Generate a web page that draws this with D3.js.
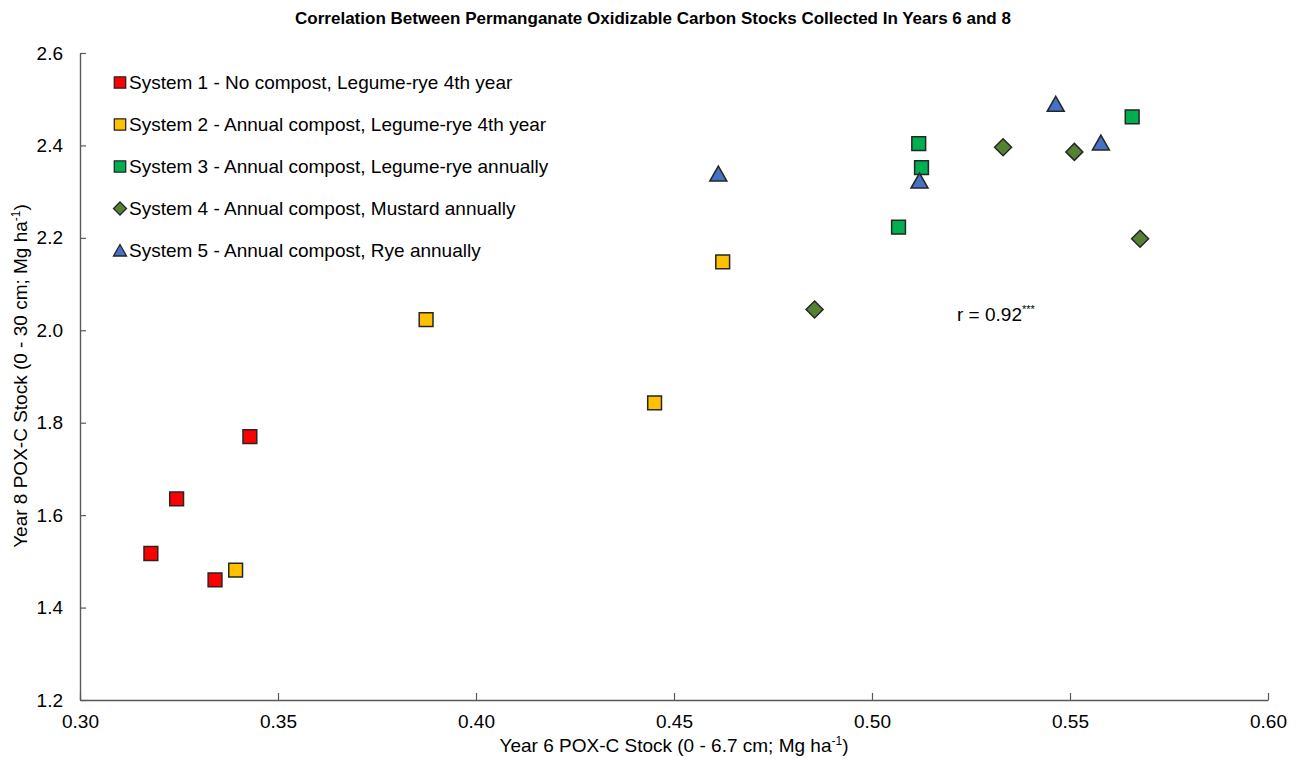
<!DOCTYPE html>
<html><head><meta charset="utf-8">
<script src="https://cdn.jsdelivr.net/npm/d3@7"></script>
<style>body{margin:0;background:#fff;}svg{display:block;font-family:"Liberation Sans",Arial,sans-serif;}</style>
</head><body><svg id="c" width="1303" height="761"></svg>
<script>
const seriesNames = [
  "System 1 - No compost, Legume-rye 4th year",
  "System 2 - Annual compost, Legume-rye 4th year",
  "System 3 - Annual compost, Legume-rye annually",
  "System 4 - Annual compost, Mustard annually",
  "System 5 - Annual compost, Rye annually"
];
const seriesColors = ["#FF0000", "#FFC000", "#00B050", "#548235", "#4472C4"];
const seriesShapes = ["square", "square", "square", "diamond", "triangle"];
const sys1X = [0.3179, 0.3244, 0.3341, 0.3429];
const sys1Y = [1.517, 1.635, 1.460, 1.770];
const sys2X = [0.3393, 0.3874, 0.4451, 0.4623];
const sys2Y = [1.481, 2.023, 1.843, 2.148];
const sys3X = [0.5118, 0.5125, 0.5067, 0.5657];
const sys3Y = [2.404, 2.352, 2.223, 2.462];
const sys4X = [0.4855, 0.5331, 0.5511, 0.5677];
const sys4Y = [2.045, 2.396, 2.386, 2.198];
const sys5X = [0.4612, 0.5120, 0.5464, 0.5578];
const sys5Y = [2.338, 2.323, 2.489, 2.405];
const xTicks = [0.30, 0.35, 0.40, 0.45, 0.50, 0.55, 0.60];
const yTicks = [1.2, 1.4, 1.6, 1.8, 2.0, 2.2, 2.4, 2.6];

const seriesX = [sys1X, sys2X, sys3X, sys4X, sys5X];
const seriesY = [sys1Y, sys2Y, sys3Y, sys4Y, sys5Y];

const svg = d3.select("#c");
const x = d3.scaleLinear().domain([0.30, 0.60]).range([80, 1268]);
const y = d3.scaleLinear().domain([1.2, 2.6]).range([700, 53]);
const axisColor = "#595959";
const FS = 19;

// axes
const gx = svg.append("g").attr("transform", "translate(0,700)")
  .call(d3.axisBottom(x).tickValues(xTicks).tickFormat(d3.format(".2f")).tickSizeInner(-7).tickSizeOuter(0).tickPadding(15));
const gy = svg.append("g").attr("transform", "translate(80,0)")
  .call(d3.axisLeft(y).tickValues(yTicks).tickFormat(d3.format(".1f")).tickSizeInner(-6).tickSizeOuter(0).tickPadding(17));
[gx, gy].forEach(g => {
  g.select(".domain").attr("stroke", axisColor).attr("stroke-width", 1.4);
  g.selectAll(".tick line").attr("stroke", axisColor).attr("stroke-width", 1.2);
  g.selectAll(".tick text").attr("fill", "#000").attr("font-size", FS)
    .attr("font-family", '"Liberation Sans",Arial,sans-serif');
});

function shapePath(shape) {
  if (shape === "square") return d3.symbol(d3.symbolSquare, 190)();
  if (shape === "diamond") return "M0,-8.5L8.5,0L0,8.5L-8.5,0Z";
  return "M0,-8L8.5,7L-8.5,7Z";
}
function shapePathSmall(shape) {
  if (shape === "square") return d3.symbol(d3.symbolSquare, 130)();
  if (shape === "diamond") return "M0,-6.5L6.5,0L0,6.5L-6.5,0Z";
  return "M0,-6L6.5,5.5L-6.5,5.5Z";
}

// points
seriesNames.forEach((name, i) => {
  const pts = seriesX[i].map((v, j) => [v, seriesY[i][j]]);
  svg.append("g").selectAll("path").data(pts).join("path")
    .attr("d", shapePath(seriesShapes[i]))
    .attr("transform", d => `translate(${x(d[0])},${y(d[1])})`)
    .attr("fill", seriesColors[i])
    .attr("stroke", "#262626").attr("stroke-width", 1.5);
});

// legend
const legendY = [82.5, 124.5, 166.5, 208.5, 250.5];
const lg = svg.append("g");
seriesNames.forEach((name, i) => {
  lg.append("path").attr("d", shapePathSmall(seriesShapes[i]))
    .attr("transform", `translate(120,${legendY[i]})`)
    .attr("fill", seriesColors[i]).attr("stroke", "#262626").attr("stroke-width", 1.3);
  lg.append("text").attr("x", 129).attr("y", legendY[i]).attr("dy", "0.35em")
    .attr("font-size", FS).attr("fill", "#000").text(name);
});

// title
svg.append("text").attr("x", 653).attr("y", 24).attr("text-anchor", "middle")
  .attr("font-size", 17).attr("font-weight", "bold").attr("fill", "#000")
  .text("Correlation Between Permanganate Oxidizable Carbon Stocks Collected In Years 6 and 8");

// x axis title
const xt = svg.append("text").attr("x", 674).attr("y", 752).attr("text-anchor", "middle")
  .attr("font-size", FS).attr("fill", "#000");
xt.append("tspan").text("Year 6 POX-C Stock (0 - 6.7 cm; Mg ha");
xt.append("tspan").attr("dy", -7).attr("font-size", 12).text("-1");
xt.append("tspan").attr("dy", 7).text(")");

// y axis title
const yt = svg.append("text").attr("transform", "translate(27,376) rotate(-90)")
  .attr("text-anchor", "middle").attr("font-size", FS).attr("fill", "#000");
yt.append("tspan").text("Year 8 POX-C Stock (0 - 30 cm; Mg ha");
yt.append("tspan").attr("dy", -7).attr("font-size", 12).text("-1");
yt.append("tspan").attr("dy", 7).text(")");

// correlation annotation
const rt = svg.append("text").attr("x", 957).attr("y", 321).attr("font-size", FS).attr("fill", "#000");
rt.append("tspan").text("r = 0.92");
rt.append("tspan").attr("dy", -8).attr("font-size", 11).text("***");
</script>
</body></html>
